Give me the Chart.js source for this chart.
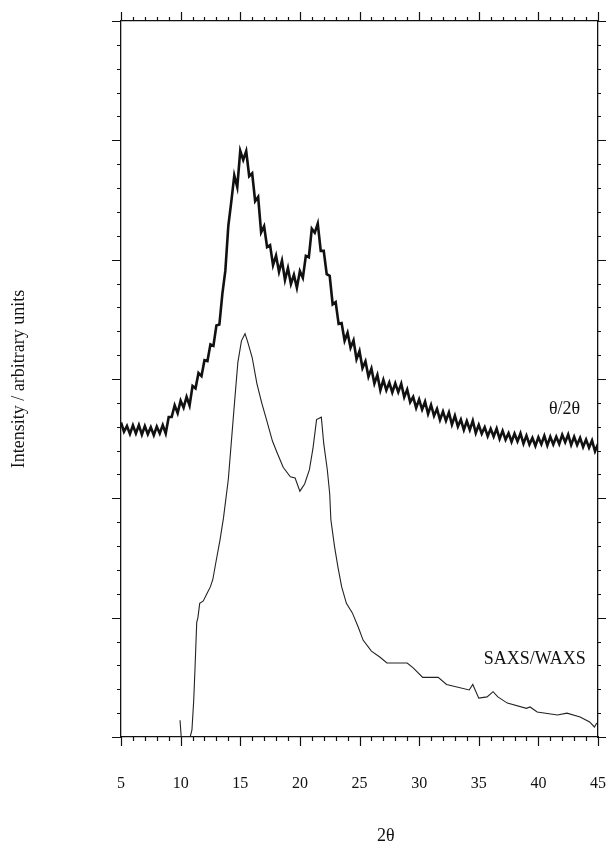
<!DOCTYPE html>
<html>
<head>
<meta charset="utf-8">
<script src="https://cdn.jsdelivr.net/npm/chart.js@4"></script>
<style>
  html, body { margin: 0; padding: 0; background: #fff; }
  #wrap { width: 611px; height: 842px; position: relative; }
</style>
</head>
<body>
<div id="wrap"><canvas id="c" width="611" height="842"></canvas></div>
<script>
// ---- data ----
const xTickLabels = [5, 10, 15, 20, 25, 30, 35, 40, 45];
const yTitle = "Intensity / arbitrary units";
const xTitle = "2\u03b8";
const seriesNames = ["\u03b8/2\u03b8", "SAXS/WAXS"];

// θ/2θ scan: 2θ positions and intensities (arbitrary units), read as
// alternating upper / lower edges of the noisy trace
const thetaX = [5.00, 5.25, 5.50, 5.75, 6.00, 6.25, 6.50, 6.75, 7.00, 7.25, 7.50, 7.75, 8.00, 8.25, 8.50, 8.75, 9.00, 9.25, 9.50, 9.75, 10.00, 10.25, 10.50, 10.75, 11.00, 11.25, 11.50, 11.75, 12.00, 12.25, 12.50, 12.75, 13.00, 13.25, 13.50, 13.75, 14.00, 14.25, 14.50, 14.75, 15.00, 15.25, 15.50, 15.75, 16.00, 16.25, 16.50, 16.75, 17.00, 17.25, 17.50, 17.75, 18.00, 18.25, 18.50, 18.75, 19.00, 19.25, 19.50, 19.75, 20.00, 20.25, 20.50, 20.75, 21.00, 21.25, 21.50, 21.75, 22.00, 22.25, 22.50, 22.75, 23.00, 23.25, 23.50, 23.75, 24.00, 24.25, 24.50, 24.75, 25.00, 25.25, 25.50, 25.75, 26.00, 26.25, 26.50, 26.75, 27.00, 27.25, 27.50, 27.75, 28.00, 28.25, 28.50, 28.75, 29.00, 29.25, 29.50, 29.75, 30.00, 30.25, 30.50, 30.75, 31.00, 31.25, 31.50, 31.75, 32.00, 32.25, 32.50, 32.75, 33.00, 33.25, 33.50, 33.75, 34.00, 34.25, 34.50, 34.75, 35.00, 35.25, 35.50, 35.75, 36.00, 36.25, 36.50, 36.75, 37.00, 37.25, 37.50, 37.75, 38.00, 38.25, 38.50, 38.75, 39.00, 39.25, 39.50, 39.75, 40.00, 40.25, 40.50, 40.75, 41.00, 41.25, 41.50, 41.75, 42.00, 42.25, 42.50, 42.75, 43.00, 43.25, 43.50, 43.75, 44.00, 44.25, 44.50, 44.75, 45.00];
const thetaY = [13.18, 12.79, 13.03, 12.70, 13.06, 12.72, 13.07, 12.67, 13.03, 12.69, 12.98, 12.65, 13.01, 12.72, 13.07, 12.72, 13.41, 13.41, 13.90, 13.57, 14.09, 13.80, 14.25, 13.89, 14.71, 14.61, 15.25, 15.12, 15.79, 15.75, 16.45, 16.39, 17.24, 17.28, 18.57, 19.54, 21.42, 22.43, 23.53, 23.04, 24.56, 24.18, 24.55, 23.50, 23.62, 22.45, 22.63, 21.14, 21.40, 20.53, 20.61, 19.77, 20.17, 19.49, 19.96, 19.15, 19.65, 18.98, 19.36, 18.82, 19.52, 19.24, 20.16, 20.10, 21.30, 21.13, 21.51, 20.37, 20.37, 19.39, 19.32, 18.13, 18.22, 17.31, 17.34, 16.60, 16.94, 16.31, 16.62, 15.83, 16.17, 15.46, 15.74, 15.10, 15.44, 14.81, 15.17, 14.53, 14.96, 14.53, 14.85, 14.44, 14.82, 14.45, 14.80, 14.24, 14.56, 14.03, 14.25, 13.79, 14.14, 13.72, 14.05, 13.54, 13.91, 13.46, 13.75, 13.29, 13.64, 13.25, 13.60, 13.09, 13.46, 13.01, 13.30, 12.87, 13.24, 12.87, 13.25, 12.74, 13.08, 12.71, 12.98, 12.60, 12.91, 12.59, 12.92, 12.49, 12.83, 12.46, 12.73, 12.37, 12.71, 12.39, 12.72, 12.29, 12.63, 12.26, 12.53, 12.20, 12.56, 12.27, 12.62, 12.22, 12.58, 12.26, 12.58, 12.28, 12.66, 12.35, 12.67, 12.24, 12.58, 12.24, 12.53, 12.15, 12.46, 12.12, 12.42, 11.97, 12.28];

// SAXS/WAXS curve
const saxsX = [9.95, 10.05, 10.8, 10.95, 11.1, 11.2, 11.35, 11.45, 11.6, 11.9, 12.2, 12.5, 12.7, 12.95, 13.3, 13.6, 14.0, 14.55, 14.8, 15.1, 15.4, 15.6, 16.0, 16.4, 16.8, 17.2, 17.7, 18.1, 18.6, 19.2, 19.6, 20.0, 20.4, 20.8, 21.1, 21.4, 21.8, 22.0, 22.3, 22.5, 22.6, 22.9, 23.2, 23.5, 23.9, 24.4, 24.9, 25.3, 26.0, 26.7, 27.3, 28.4, 29.0, 29.5, 30.3, 31.6, 32.3, 34.2, 34.5, 35.0, 35.7, 36.2, 36.6, 37.4, 39.0, 39.3, 39.9, 41.6, 42.4, 43.5, 44.3, 44.7, 44.9];
const saxsY = [0.7, 0.0, 0.0, 0.3, 1.55, 2.8, 4.8, 5.0, 5.6, 5.7, 6.0, 6.3, 6.6, 7.3, 8.25, 9.2, 10.8, 14.2, 15.7, 16.6, 16.9, 16.6, 15.9, 14.8, 14.0, 13.3, 12.4, 11.9, 11.3, 10.9, 10.85, 10.3, 10.6, 11.2, 12.1, 13.3, 13.4, 12.3, 11.2, 10.2, 9.1, 8.0, 7.1, 6.3, 5.6, 5.2, 4.6, 4.06, 3.6, 3.35, 3.1, 3.1, 3.1, 2.9, 2.5, 2.5, 2.2, 1.97, 2.2, 1.63, 1.68, 1.9, 1.68, 1.42, 1.2, 1.26, 1.05, 0.92, 1.0, 0.84, 0.63, 0.42, 0.59];

// label anchor points (data coordinates)
const thetaLabelAt = [42.2, 13.75];
const saxsLabelAt = [39.7, 3.27];
const xTitleAt = 27.2;

const toPts = (xs, ys) => xs.map((x, i) => ({ x: x, y: ys[i] }));
const SERIF = "'Liberation Serif', 'DejaVu Serif', serif";

const ticksPlugin = {
  id: 'frameTicks',
  afterDraw(chart) {
    const ctx = chart.ctx;
    const xs = chart.scales.x, ys = chart.scales.y;
    const a = chart.chartArea;
    ctx.save();
    ctx.strokeStyle = '#111';
    ctx.lineWidth = 1.2;
    ctx.beginPath();
    for (let v = xs.min; v <= xs.max; v += 1) {
      const px = Math.round(xs.getPixelForValue(v)) + 0.5;
      const len = (v % 5 === 0) ? 9 : 4;
      ctx.moveTo(px, a.bottom); ctx.lineTo(px, a.bottom + len);
      ctx.moveTo(px, a.top); ctx.lineTo(px, a.top - len);
    }
    for (let v = ys.min; v <= ys.max; v += 1) {
      const py = Math.round(ys.getPixelForValue(v)) + 0.5;
      const len = (v % 5 === 0) ? 9 : 4;
      ctx.moveTo(a.left, py); ctx.lineTo(a.left - len, py);
      ctx.moveTo(a.right, py); ctx.lineTo(a.right + (v % 5 === 0 ? 8 : 3), py);
    }
    ctx.moveTo(a.left - 9, a.top + 0.5); ctx.lineTo(a.left, a.top + 0.5);
    ctx.moveTo(a.left - 9, a.bottom + 0.5); ctx.lineTo(a.left, a.bottom + 0.5);
    ctx.stroke();

    ctx.fillStyle = '#111';
    ctx.font = '18px ' + SERIF;
    ctx.textAlign = 'center';
    ctx.textBaseline = 'middle';
    ctx.fillText(seriesNames[0], xs.getPixelForValue(thetaLabelAt[0]), ys.getPixelForValue(thetaLabelAt[1]));
    ctx.fillText(seriesNames[1], xs.getPixelForValue(saxsLabelAt[0]), ys.getPixelForValue(saxsLabelAt[1]));
    ctx.fillText(xTitle, xs.getPixelForValue(xTitleAt), 836);
    ctx.restore();
  }
};

new Chart(document.getElementById('c'), {
  type: 'line',
  data: {
    datasets: [
      {
        label: seriesNames[0],
        data: toPts(thetaX, thetaY),
        borderColor: '#111',
        borderWidth: 2.6,
        pointRadius: 0,
        tension: 0,
        fill: false
      },
      {
        label: seriesNames[1],
        data: toPts(saxsX, saxsY),
        borderColor: '#222',
        borderWidth: 1.1,
        pointRadius: 0,
        tension: 0,
        fill: false
      }
    ]
  },
  options: {
    responsive: false,
    animation: false,
    devicePixelRatio: 1,
    layout: { padding: 0, autoPadding: false },
    plugins: { legend: { display: false }, tooltip: { enabled: false } },
    scales: {
      x: {
        type: 'linear', position: 'bottom', min: 5, max: 45,
        afterFit: s => { s.height = 105; },
        afterBuildTicks: s => { s.ticks = xTickLabels.map(v => ({ value: v })); },
        ticks: { color: '#111', font: { family: SERIF, size: 16 }, padding: 0, maxRotation: 0 },
        grid: { display: true, drawOnChartArea: false, drawTicks: true, tickLength: 37, tickColor: 'rgba(0,0,0,0)' },
        border: { display: true, color: '#111', width: 1.3 }
      },
      x2: {
        type: 'linear', position: 'top', min: 5, max: 45,
        afterFit: s => { s.height = 21; },
        ticks: { display: false },
        grid: { display: false, drawTicks: false },
        border: { display: true, color: '#111', width: 1.3 }
      },
      y: {
        type: 'linear', position: 'left', min: 0, max: 30,
        afterFit: s => { s.width = 121; },
        ticks: { display: false },
        grid: { display: false, drawTicks: false },
        border: { display: true, color: '#111', width: 1.3 },
        title: { display: true, text: yTitle, color: '#111', font: { family: SERIF, size: 18 }, padding: { top: 8, bottom: 0 } }
      },
      y2: {
        type: 'linear', position: 'right', min: 0, max: 30,
        afterFit: s => { s.width = 13; },
        ticks: { display: false },
        grid: { display: false, drawTicks: false },
        border: { display: true, color: '#111', width: 1.3 }
      }
    }
  },
  plugins: [ticksPlugin]
});
</script>
</body>
</html>
